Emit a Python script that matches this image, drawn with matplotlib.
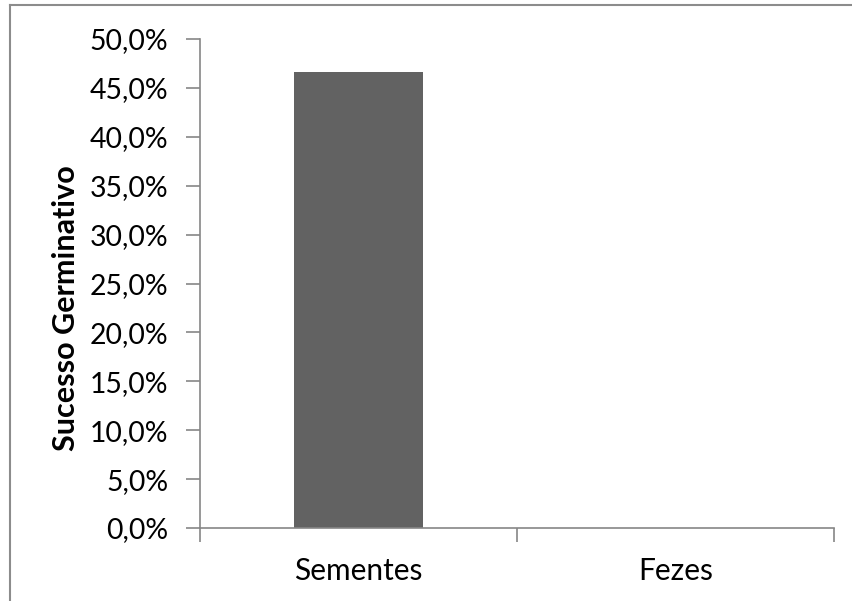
import matplotlib.pyplot as plt
from matplotlib.lines import Line2D
from matplotlib.ticker import FuncFormatter, MultipleLocator

categorias = ["Sementes", "Fezes"]
sucesso = [46.6, 0.0]

plt.rcParams['font.family'] = ['Lato', 'DejaVu Sans']

fig = plt.figure(figsize=(8.52, 6.01), dpi=100)
ax = fig.add_axes([200 / 852, 1 - 528 / 601, 634 / 852, 489 / 601])

pos = list(range(len(categorias)))
ax.bar(pos, sucesso, width=0.404, color="#626262")

ax.set_xlim(-0.5, len(categorias) - 0.5)
ax.set_ylim(0, 50)
ax.yaxis.set_major_locator(MultipleLocator(5))
ax.yaxis.set_major_formatter(FuncFormatter(lambda v, p: f"{v:.1f}%".replace(".", ",")))

# categories between boundary ticks, like Excel
ax.set_xticks([p - 0.5 for p in pos] + [pos[-1] + 0.5])
ax.set_xticklabels([])
ax.set_xticks(pos, minor=True)
ax.set_xticklabels(categorias, minor=True)
ax.tick_params(axis="x", which="minor", length=0, pad=21, labelsize=21.5)
ax.tick_params(axis="x", which="major", length=10, color="#868686", width=1.2)
ax.tick_params(axis="y", length=10, color="#868686", width=1.2, labelsize=20.4, pad=13)

for s in ["top", "right"]:
    ax.spines[s].set_visible(False)
for s in ["left", "bottom"]:
    ax.spines[s].set_color("#868686")
    ax.spines[s].set_linewidth(1.2)

ax.set_ylabel("Sucesso Germinativo", fontsize=22, fontweight="bold", va="center")
ax.yaxis.set_label_coords(-0.211, 0.45)

# chart frame
fig.add_artist(Line2D([10 / 852, 1], [1 - 5 / 601, 1 - 5 / 601], color="#8c8c8c", lw=1.5))
fig.add_artist(Line2D([10 / 852, 10 / 852], [0, 1 - 5 / 601], color="#8c8c8c", lw=1.5))

fig.savefig("out.png", dpi=100)
